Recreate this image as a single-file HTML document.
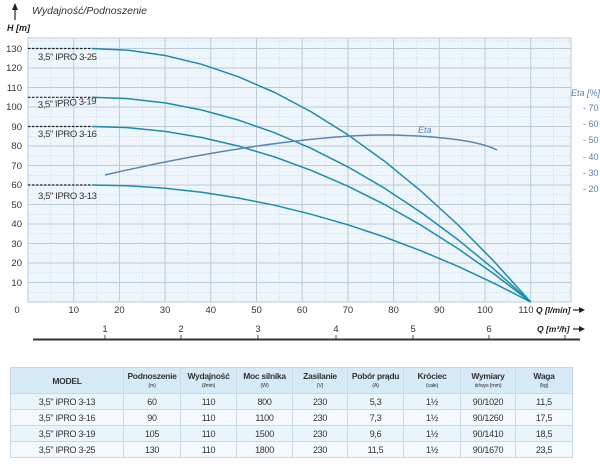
<!DOCTYPE html>
<html><head><meta charset="utf-8"><style>
body{margin:0;background:#fff;width:600px;height:466px;overflow:hidden;font-family:"Liberation Sans",sans-serif}
svg{position:absolute;left:0;top:0}
table{position:absolute;left:10px;top:367px;width:562px;border-collapse:collapse;table-layout:fixed;font-family:"Liberation Sans",sans-serif;color:#333}
td,th{border:1px solid #c9d9e4;text-align:center;padding:0;font-size:9px;letter-spacing:-0.3px}
th{background:#d6e9f6;height:25px;font-weight:bold;font-size:8.5px;line-height:10px}
th small{font-size:5.5px;font-weight:normal;display:block}
td{height:15px}
tr:nth-child(even) td{background:#eaf4fb}
tr:nth-child(odd) td{background:#f3f9fd}
</style></head><body>
<svg width="600" height="466" viewBox="0 0 600 466" font-family="Liberation Sans, sans-serif">
<rect x="28" y="38" width="543" height="264" fill="#eef6fc"/>
<g stroke="#c8d6e0" stroke-width="0.7" stroke-dasharray="1.5,1.5">
<line x1="28" x2="571" y1="292.3" y2="292.3"/><line x1="28" x2="571" y1="272.8" y2="272.8"/><line x1="28" x2="571" y1="253.3" y2="253.3"/><line x1="28" x2="571" y1="233.8" y2="233.8"/><line x1="28" x2="571" y1="214.3" y2="214.3"/><line x1="28" x2="571" y1="194.8" y2="194.8"/><line x1="28" x2="571" y1="175.3" y2="175.3"/><line x1="28" x2="571" y1="155.8" y2="155.8"/><line x1="28" x2="571" y1="136.3" y2="136.3"/><line x1="28" x2="571" y1="116.8" y2="116.8"/><line x1="28" x2="571" y1="97.3" y2="97.3"/><line x1="28" x2="571" y1="77.8" y2="77.8"/><line x1="28" x2="571" y1="58.3" y2="58.3"/><line x1="28" x2="571" y1="41" y2="41"/>
<line y1="38" y2="302" x1="50.9" x2="50.9"/><line y1="38" y2="302" x1="96.6" x2="96.6"/><line y1="38" y2="302" x1="142.3" x2="142.3"/><line y1="38" y2="302" x1="188" x2="188"/><line y1="38" y2="302" x1="233.7" x2="233.7"/><line y1="38" y2="302" x1="279.4" x2="279.4"/><line y1="38" y2="302" x1="325.1" x2="325.1"/><line y1="38" y2="302" x1="370.8" x2="370.8"/><line y1="38" y2="302" x1="416.5" x2="416.5"/><line y1="38" y2="302" x1="462.2" x2="462.2"/><line y1="38" y2="302" x1="507.9" x2="507.9"/><line y1="38" y2="302" x1="553.6" x2="553.6"/>
</g>
<g stroke="#bccbd6" stroke-width="1">
<line x1="28" x2="571" y1="282.5" y2="282.5"/><line x1="28" x2="571" y1="263" y2="263"/><line x1="28" x2="571" y1="243.5" y2="243.5"/><line x1="28" x2="571" y1="224" y2="224"/><line x1="28" x2="571" y1="204.5" y2="204.5"/><line x1="28" x2="571" y1="185" y2="185"/><line x1="28" x2="571" y1="165.5" y2="165.5"/><line x1="28" x2="571" y1="146" y2="146"/><line x1="28" x2="571" y1="126.5" y2="126.5"/><line x1="28" x2="571" y1="107" y2="107"/><line x1="28" x2="571" y1="87.5" y2="87.5"/><line x1="28" x2="571" y1="68" y2="68"/><line x1="28" x2="571" y1="48.5" y2="48.5"/>
<line y1="38" y2="302" x1="73.7" x2="73.7"/><line y1="38" y2="302" x1="119.4" x2="119.4"/><line y1="38" y2="302" x1="165.1" x2="165.1"/><line y1="38" y2="302" x1="210.8" x2="210.8"/><line y1="38" y2="302" x1="256.5" x2="256.5"/><line y1="38" y2="302" x1="302.2" x2="302.2"/><line y1="38" y2="302" x1="347.9" x2="347.9"/><line y1="38" y2="302" x1="393.6" x2="393.6"/><line y1="38" y2="302" x1="439.3" x2="439.3"/><line y1="38" y2="302" x1="485" x2="485"/><line y1="38" y2="302" x1="530.7" x2="530.7"/>
</g>
<rect x="28" y="38" width="543" height="264" fill="none" stroke="#bccbd6" stroke-width="1"/>
<g stroke="#222" stroke-width="1.2" stroke-dasharray="2.5,1.5">
<line x1="28" x2="92" y1="48.5" y2="48.5"/><line x1="28" x2="92" y1="97.3" y2="97.3"/><line x1="28" x2="92" y1="126.5" y2="126.5"/><line x1="28" x2="92" y1="185" y2="185"/>
</g>
<g fill="none" stroke="#1b8cae" stroke-width="1.5" stroke-linejoin="round">
<polyline points="92,48.5 128.5,50.3 165.1,55.5 201.7,64.3 238.2,76.7 274.8,92.5 311.3,111.9 347.9,134.8 384.5,161.2 421,191.1 457.6,224.5 494.1,261.5 530.7,302"/>
<polyline points="92,97.3 128.5,98.7 165.1,102.9 201.7,110 238.2,120 274.8,132.8 311.3,148.4 347.9,166.9 384.5,188.2 421,212.4 457.6,239.4 494.1,269.3 530.7,302"/>
<polyline points="92,126.5 128.5,127.7 165.1,131.4 201.7,137.5 238.2,146 274.8,157 311.3,170.4 347.9,186.2 384.5,204.5 421,225.2 457.6,248.4 494.1,274 530.7,302"/>
<polyline points="92,185 128.5,185.8 165.1,188.3 201.7,192.3 238.2,198 274.8,205.3 311.3,214.3 347.9,224.8 384.5,237 421,250.8 457.6,266.2 494.1,283.3 530.7,302"/>
</g>
<path d="M105,175 C220,148 330,134 390,135 C440,136 480,141 497,150" fill="none" stroke="#5a86ad" stroke-width="1.5"/>
<g font-size="9.5" fill="#333" text-anchor="end">
<text x="22" y="52">130</text><text x="22" y="71">120</text><text x="22" y="91">110</text><text x="22" y="110">100</text><text x="22" y="130">90</text><text x="22" y="149">80</text><text x="22" y="169">70</text><text x="22" y="188">60</text><text x="22" y="208">50</text><text x="22" y="227">40</text><text x="22" y="247">30</text><text x="22" y="266">20</text><text x="22" y="286">10</text>
</g>
<g font-size="9.5" fill="#333" text-anchor="middle">
<text x="17" y="313">0</text><text x="73.7" y="313">10</text><text x="119.4" y="313">20</text><text x="165.1" y="313">30</text><text x="210.8" y="313">40</text><text x="256.5" y="313">50</text><text x="302.2" y="313">60</text><text x="347.9" y="313">70</text><text x="393.6" y="313">80</text><text x="439.3" y="313">90</text><text x="485" y="313">100</text><text x="526" y="313">110</text>
<text x="105" y="332">1</text><text x="181" y="332">2</text><text x="258" y="332">3</text><text x="336" y="332">4</text><text x="413" y="332">5</text><text x="489" y="332">6</text>
</g>
<g stroke="#555" stroke-width="1"><line x1="105" x2="105" y1="335" y2="339"/><line x1="181" x2="181" y1="335" y2="339"/><line x1="258" x2="258" y1="335" y2="339"/><line x1="336" x2="336" y1="335" y2="339"/><line x1="413" x2="413" y1="335" y2="339"/><line x1="489" x2="489" y1="335" y2="339"/><line x1="565" x2="565" y1="335" y2="339"/></g>
<line x1="33" x2="580" y1="339.5" y2="339.5" stroke="#333" stroke-width="2"/>
<g font-size="8.5" font-style="italic" font-weight="bold" fill="#222">
<text x="536" y="313">Q [l/min]</text><text x="537" y="332">Q [m³/h]</text>
<text x="7" y="31" font-size="9">H [m]</text>
</g>
<g stroke="#222" stroke-width="1.2"><line x1="573" x2="580" y1="310" y2="310"/><line x1="573" x2="580" y1="329" y2="329"/><line x1="15" x2="15" y1="9" y2="20"/></g>
<polygon points="579,307 585,310 579,313" fill="#222"/><polygon points="579,326 585,329 579,332" fill="#222"/><polygon points="12,10 15,3 18,10" fill="#222"/>
<text x="32" y="14" font-size="10.5" font-style="italic" fill="#333">Wydajność/Podnoszenie</text>
<g font-size="9.5" fill="#333" letter-spacing="-0.4">
<text x="38" y="60">3,5" IPRO 3-25</text>
<text x="38" y="108" transform="rotate(-4 38 108)">3,5" IPRO 3-19</text>
<text x="38" y="137">3,5" IPRO 3-16</text>
<text x="38" y="199">3,5" IPRO 3-13</text>
</g>
<g font-size="9" fill="#5a7fa8" font-style="italic"><text x="418" y="133">Eta</text><text x="571" y="96">Eta [%]</text></g>
<g font-size="9" fill="#5a7fa8"><text x="583" y="111">- 70</text><text x="583" y="127">- 60</text><text x="583" y="143">- 50</text><text x="583" y="160">- 40</text><text x="583" y="176">- 30</text><text x="583" y="192">- 20</text></g>
</svg>
<table>
<colgroup><col style="width:113px"><col style="width:57px"><col style="width:56px"><col style="width:56px"><col style="width:55px"><col style="width:56px"><col style="width:57px"><col style="width:55px"><col style="width:57px"></colgroup>
<tr><th>MODEL</th><th>Podnoszenie<small>(m)</small></th><th>Wydajność<small>(l/min)</small></th><th>Moc silnika<small>(W)</small></th><th>Zasilanie<small>(V)</small></th><th>Pobór prądu<small>(A)</small></th><th>Króciec<small>(cale)</small></th><th>Wymiary<small>śr/wys (mm)</small></th><th>Waga<small>(kg)</small></th></tr>
<tr><td>3,5" IPRO 3-13</td><td>60</td><td>110</td><td>800</td><td>230</td><td>5,3</td><td>1½</td><td>90/1020</td><td>11,5</td></tr>
<tr><td>3,5" IPRO 3-16</td><td>90</td><td>110</td><td>1100</td><td>230</td><td>7,3</td><td>1½</td><td>90/1260</td><td>17,5</td></tr>
<tr><td>3,5" IPRO 3-19</td><td>105</td><td>110</td><td>1500</td><td>230</td><td>9,6</td><td>1½</td><td>90/1410</td><td>18,5</td></tr>
<tr><td>3,5" IPRO 3-25</td><td>130</td><td>110</td><td>1800</td><td>230</td><td>11,5</td><td>1½</td><td>90/1670</td><td>23,5</td></tr>
</table>
</body></html>
